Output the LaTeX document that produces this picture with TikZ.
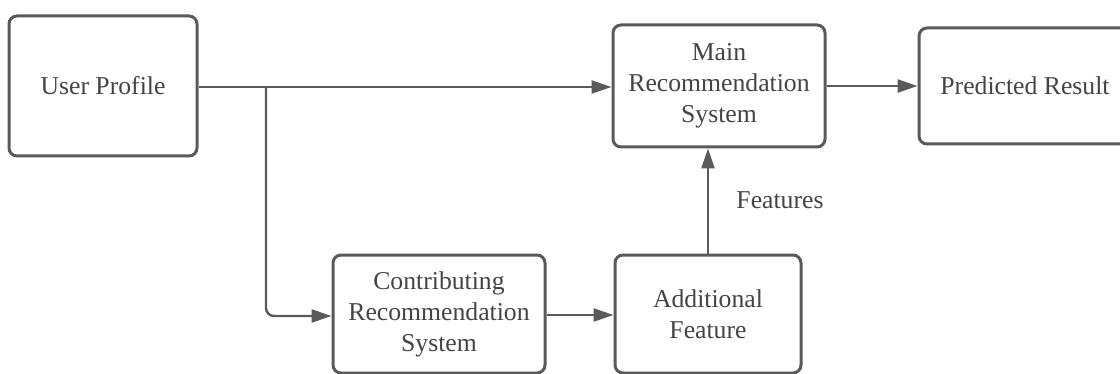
\documentclass[tikz,border=0pt]{standalone}
\usepackage{fontspec}
\setmainfont{Liberation Serif}
\usetikzlibrary{arrows.meta}
\definecolor{edge}{HTML}{5A5A5A}
\definecolor{ink}{HTML}{444444}
\tikzset{
  block/.style={draw=edge, line width=1.5pt, rounded corners=4pt, fill=white,
    align=center, text=ink, inner sep=0pt,
    font=\fontsize{12.85}{15.5}\selectfont},
  flow/.style={draw=edge, line width=1.2pt, -{Triangle[length=10pt,width=6.5pt]}},
  lbl/.style={text=ink, font=\fontsize{12.85}{15.5}\selectfont}
}
\begin{document}
\begin{tikzpicture}[x=0.5pt,y=-0.5pt]
\useasboundingbox (0,0) rectangle (1120,374);
\clip (0,0) rectangle (1120,374);
\fill[white] (0,0) rectangle (1120,374);

% blocks (sizes in half points = pixels of the layout grid)
\node[block, minimum width=94pt, minimum height=70pt] (user) at (103,86) {User Profile};
\node[block, minimum width=106pt, minimum height=61pt] (main) at (719,86) {Main\\Recommendation\\System};
\node[block, minimum width=106pt, minimum height=58pt] (pred) at (1025,86) {Predicted Result};
\node[block, minimum width=106pt, minimum height=59pt] (contrib) at (439,314) {Contributing\\Recommendation\\System};
\node[block, minimum width=93pt, minimum height=59pt] (addl) at (708,314) {Additional\\Feature};

% connectors
\coordinate (split) at (266,87);
\draw[flow] (user.east |- split) -- (main.west |- split);
\draw[flow, rounded corners=4pt] (split) -- (266,316) -- (contrib.west |- 0,316);
\draw[flow] (contrib.east |- 0,315) -- (addl.west |- 0,315);
\draw[flow] (addl.north) -- (main.south -| addl.north);
\draw[flow] (main.east) -- (pred.west);

\node[lbl] (feat) at (780,200) {Features};
\end{tikzpicture}
\end{document}
